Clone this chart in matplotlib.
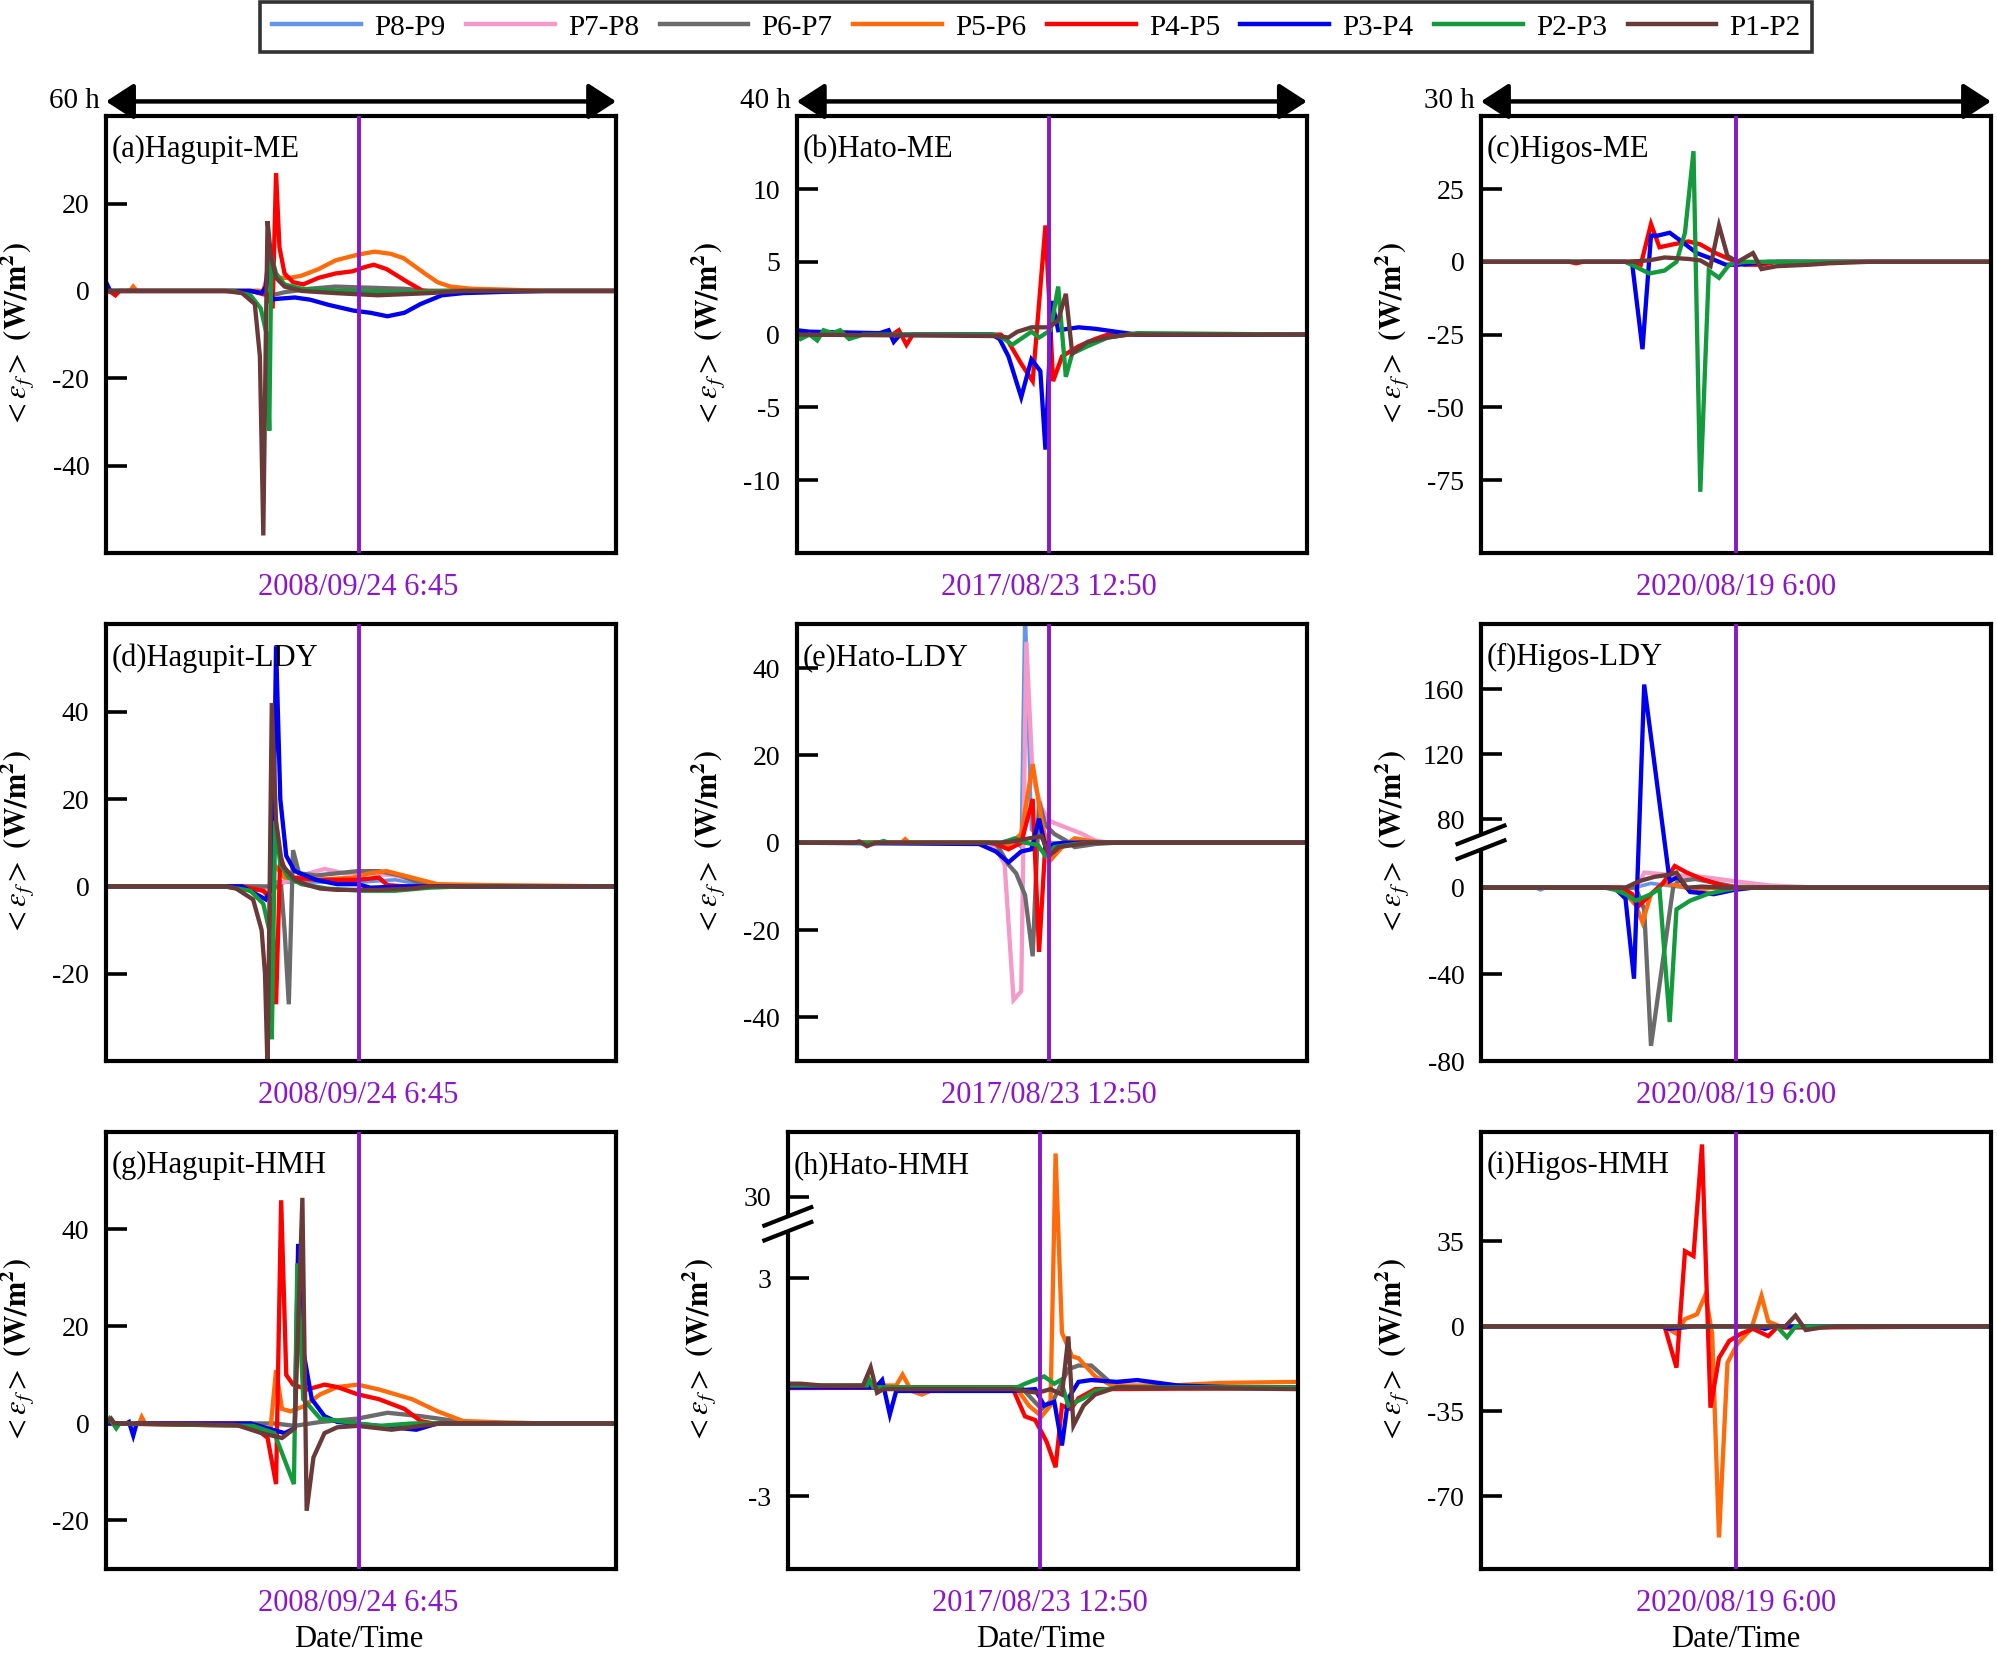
import numpy as np
import matplotlib
matplotlib.use('Agg')
import matplotlib.pyplot as plt
from matplotlib.lines import Line2D
from matplotlib.patches import Polygon
from matplotlib.ticker import FixedLocator

plt.rcParams['font.family'] = ['Liberation Serif', 'DejaVu Serif']
plt.rcParams['mathtext.fontset'] = 'stix'
plt.rcParams['axes.unicode_minus'] = False

############## series names and colours #################
names = ['P8-P9', 'P7-P8', 'P6-P7', 'P5-P6', 'P4-P5', 'P3-P4', 'P2-P3', 'P1-P2']
colors = ['#6495ED', '#F59AC8', '#6B6B6B', '#FF6A0A', '#FF0000', '#0000F0', '#139A3C', '#6A3A38']

dates = ['2008/09/24 6:45', '2017/08/23 12:50', '2020/08/19 6:00']
spans = [60, 40, 30]          # hours shown in each column
typhoon_time = [29.7, 19.8, 15.0]   # hour of the purple marker

############## data: hours, <eps_f> (W/m2) #################
hagupit_me = {
    'P6-P7': ([0, 18, 19.5, 21, 24, 27, 30, 35, 38, 60],
              [0, 0, -1, -0.3, 0.5, 1, 0.8, 0.5, 0, 0]),
    'P5-P6': ([0, 2.8, 3.2, 3.6, 18.5, 19.2, 20, 21.7, 23, 25, 27, 29.6, 31.6, 33.5, 35, 37.5, 39, 40.5, 43, 47, 52, 60],
              [0, 0, 1, 0, 0, 5, 3, 3, 3.5, 5, 7, 8.3, 9, 8.5, 7.5, 4, 2, 1, 0.5, 0.3, 0, 0]),
    'P4-P5': ([0, 0.6, 1.1, 1.6, 17, 19.0, 19.6, 20.0, 20.4, 21, 22, 23.2, 25, 27, 29, 30.5, 31.5, 33, 35.5, 37.3, 60],
              [0, -0.3, -1, 0, 0, -1, -4, 27, 10, 4, 2, 1.5, 3, 4, 4.5, 5.5, 6, 5, 2, 0, 0]),
    'P3-P4': ([0, 0.5, 17, 18.3, 18.8, 19.1, 19.5, 20.2, 22.2, 24, 26.2, 29.1, 31.1, 33.1, 35.1, 37, 39.5, 42, 47, 52, 60],
              [2, 0, 0, -0.5, 1, 8, -2, -1.8, -1.5, -2, -3.2, -4.5, -5, -5.8, -5, -3, -1, -0.5, -0.2, 0, 0]),
    'P2-P3': ([0, 15, 17, 18.2, 18.9, 19.2, 19.45, 20, 21, 23, 28, 35, 40, 60],
              [0, 0, -1, -4, -10, -32, 8, 4, 1.5, 0.5, 0, -0.3, 0, 0]),
    'P1-P2': ([0, 14, 16, 17.5, 18.1, 18.5, 18.8, 19.0, 19.4, 20, 21, 23, 27, 32, 38, 42, 60],
              [0, 0, -0.5, -3, -15, -56, -10, 16, 8, 3, 1, 0, -0.5, -1, -0.5, 0, 0]),
}

hato_me = {
    'P4-P5': ([0, 7.5, 8.0, 8.6, 9.1, 16, 16.6, 17.6, 18.5, 19.5, 20.1, 20.8, 22.1, 23.4, 24.4, 40],
              [0, 0, 0.3, -0.7, 0, 0, -0.5, -2, -3.2, 7.5, -3.2, -1.5, -0.8, -0.3, 0, 0]),
    'P3-P4': ([0, 1, 6.5, 7.2, 7.6, 8.1, 15.3, 15.9, 16.6, 17.6, 18.4, 19.1, 19.5, 20.0, 20.5, 22.1, 23.4, 25, 26.7, 40],
              [0.3, 0.2, 0.1, 0.3, -0.5, 0, 0, -0.3, -1.5, -4.3, -1.7, -2.5, -7.9, 2.3, 0.3, 0.5, 0.4, 0.2, 0, 0]),
    'P2-P3': ([0, 0.3, 1.0, 1.6, 2.1, 2.8, 3.4, 4.1, 5.2, 15.5, 16.3, 16.9, 18.4, 19.0, 19.9, 20.5, 21.1, 21.6, 22.8, 24.4, 26.7, 40],
              [0, -0.3, 0, -0.4, 0.3, 0.1, 0.3, -0.3, 0, 0, -0.3, -0.7, 0.2, -0.2, 0.3, 3.3, -2.9, -1.3, -0.8, -0.2, 0.1, 0]),
    'P1-P2': ([0, 15.6, 16.6, 17.3, 18.4, 19.8, 20.5, 21.1, 21.6, 22.8, 24.4, 26, 40],
              [0, -0.1, -0.2, 0.2, 0.5, 0.5, 1.0, 2.8, -1.3, -0.5, -0.2, 0, 0]),
}

higos_me = {
    'P4-P5': ([0, 5.2, 5.6, 6.0, 9.0, 9.4, 10.0, 10.5, 11.3, 12.2, 12.9, 13.8, 14.8, 15.5, 16.5, 17.4, 30],
              [0, 0, -0.5, 0, 0, -1, 13, 5, 6, 7, 6, 3, 0.5, -1, -1, 0, 0]),
    'P3-P4': ([0, 8.5, 8.9, 9.5, 10.0, 10.4, 11.1, 11.8, 12.7, 13.6, 14.4, 15.1, 16.0, 16.9, 30],
              [0, 0, -1, -30, 9, 9, 10, 7, 3, 1, -1, -1, -0.5, 0, 0]),
    'P2-P3': ([0, 8.5, 9.9, 10.8, 11.5, 12.0, 12.5, 12.9, 13.4, 14.0, 14.6, 15.5, 30],
              [0, 0, -4, -3, 0, 10, 38, -79, -3, -5.5, -1, 0, 0]),
    'P1-P2': ([0, 8.5, 9.9, 10.8, 12.2, 12.9, 13.5, 14.0, 14.5, 15.1, 16.0, 16.5, 17.4, 19.3, 20.5, 22.8, 30],
              [0, 0, 0.5, 1.5, 1.0, 0.5, -1.5, 12.5, 2, 0, 3, -2.5, -1.5, -1, -0.5, 0, 0]),
}

hagupit_ldy = {
    'P8-P9': ([0, 17, 18.8, 19.6, 21, 25, 30, 34, 37, 40, 60],
              [0, 0, -1, 1, 1, 1, 1, 1.5, 0.5, 0, 0]),
    'P7-P8': ([0, 18, 19.5, 21, 23, 25.7, 28, 31, 34, 37, 40, 60],
              [0, 0, -1, 1, 2.5, 4, 3, 3, 2.5, 1, 0, 0]),
    'P6-P7': ([0, 18, 20.6, 21.0, 21.5, 22.0, 22.7, 24.7, 27.2, 29.6, 32.1, 34.6, 36.6, 38, 60],
              [0, 0, 0, -10, -27, 8.3, 3, 2.5, 3, 3.5, 3.5, 2.5, 1, 0, 0]),
    'P5-P6': ([0, 16, 18.5, 19.3, 19.8, 21, 25, 29, 31, 33, 36, 39, 45, 60],
              [0, 0, -1, -3, 5, 2, 1.5, 2, 3, 3.5, 2, 0.5, 0.3, 0]),
    'P4-P5': ([0, 16, 18.5, 19.5, 20.0, 20.5, 21, 22, 25, 29.6, 32.1, 33.1, 35, 60],
              [0, 0, -1, -3, -27, 7, 4, 2, 1.5, 1.5, 2, 0.3, 0, 0]),
    'P3-P4': ([0, 16, 18.8, 19.6, 20.0, 20.5, 21.2, 22.2, 24.7, 27.2, 29.6, 31.1, 35, 60],
              [0, 0, -3, 0, 55, 20, 7, 3.5, 1.5, 0.5, 0.5, -0.3, 0, 0]),
    'P2-P3': ([0, 14, 17, 18.5, 19.2, 19.5, 19.9, 20.5, 21.5, 23, 26, 30, 34, 38, 42, 60],
              [0, 0, -1, -4, -10, -35, 15, 5, 2, 0.5, -0.5, -1, -1, -0.3, 0, 0]),
    'P1-P2': ([0, 14, 15.3, 17.3, 18.3, 18.7, 19.0, 19.5, 20.0, 20.7, 22.2, 23.7, 25.2, 27.2, 32.1, 36, 38, 60],
              [0, 0, -0.5, -3, -10, -20, -42, 42, 15, 5, 1.5, 0.3, -0.5, -0.8, -0.8, -0.5, 0, 0]),
}

hato_ldy = {
    'P8-P9': ([0, 17.2, 17.6, 17.9, 18.4, 19.2, 20, 40],
              [0, 0, -1, 55, 3, 1, 0, 0]),
    'P7-P8': ([0, 15.0, 15.6, 16.3, 17.0, 17.6, 18.0, 18.5, 19.2, 19.8, 21.1, 22.4, 23.4, 24.5, 40],
              [0, 0, -1, -5, -36, -34, 46, 15, 8, 5, 3.5, 2, 0.5, 0, 0]),
    'P6-P7': ([0, 5.2, 5.5, 5.9, 15.6, 16.6, 17.2, 17.9, 18.5, 19.0, 19.5, 20.2, 21.1, 21.8, 23.4, 25, 40],
              [0, 0, -0.5, 0, 0, -5, -7, -12, -26, 9.4, 4, 2, 0.5, -1, -0.3, 0, 0]),
    'P5-P6': ([0, 8.2, 8.5, 8.8, 16, 16.6, 17.6, 18.5, 19.2, 19.9, 20.8, 21.8, 22.8, 24, 40],
              [0, 0, 0.8, 0, 0, -0.5, 2, 18, 5, -4, -1, 1, 0.5, 0, 0]),
    'P4-P5': ([0, 15, 15.6, 16.6, 17.6, 18.5, 19.0, 19.5, 20.2, 20.8, 22, 40],
              [0, 0, -0.3, -1.5, 0, 10, -25, 0, -2, -0.5, 0, 0]),
    'P3-P4': ([0, 14.3, 15.6, 16.6, 17.6, 18.4, 19.0, 19.5, 20.2, 21, 40],
              [0, -0.3, -2, -4.5, -2, -1.5, 5.5, -1, -0.3, 0, 0]),
    'P2-P3': ([0, 6.4, 6.8, 7.2, 16, 16.6, 17.1, 17.9, 18.9, 19.5, 20.2, 21.8, 23, 40],
              [0, 0, 0.4, 0, 0, 0.5, 1, 0, -0.5, -3, -1, -0.3, 0, 0]),
    'P1-P2': ([0, 4.5, 4.9, 5.5, 6.2, 16, 16.9, 19.2, 19.8, 20.5, 21.8, 23, 40],
              [0, 0, 0.3, -0.8, 0, 0, 0.3, 1.5, -3, -1, -0.5, 0, 0]),
}

higos_ldy = {
    'P8-P9': ([0, 3.2, 3.5, 3.8, 9, 10, 11, 12, 30],
              [0, 0, -1, 0, 0, 2, 1, 0, 0]),
    'P7-P8': ([0, 9.2, 9.6, 11, 13, 14.9, 17, 20, 30],
              [0, 0, 7, 6, 5, 3, 1, 0, 0]),
    'P6-P7': ([0, 9.1, 9.6, 10.0, 11.3, 11.6, 12.6, 14.9, 17, 30],
              [0, 0, -10, -73, 0, 3, 4, 0.5, 0, 0]),
    'P5-P6': ([0, 7.8, 8.4, 9.1, 9.5, 10.0, 10.7, 11.6, 12.6, 13.7, 30],
              [0, 0, -2, -8, -16, -3, 2, 1, -1, 0, 0]),
    'P4-P5': ([0, 8.3, 8.9, 9.2, 10.0, 10.7, 11.4, 12.1, 13.0, 14.2, 14.9, 30],
              [0, 0, -3, -9, -3, 2, 10, 7, 4, 1, 0, 0]),
    'P3-P4': ([0, 7.5, 7.9, 8.5, 9.0, 9.6, 11.1, 11.6, 12.3, 13.7, 14.9, 16, 30],
              [0, 0, -0.5, -5, -42, 163, 3, 5, -2, -3, -1, 0, 0]),
    'P2-P3': ([0, 7.3, 7.9, 8.5, 9.1, 10.0, 10.5, 11.1, 11.5, 12.3, 13.3, 14.4, 15.3, 30],
              [0, 0, -1, -3, -6, -3, -0.5, -62, -10, -6, -3, -1, 0, 0]),
    'P1-P2': ([0, 8.5, 9.3, 10.2, 11.1, 11.5, 12.1, 13.0, 14.4, 30],
              [0, 0, 3, 5, 6, 7, 0, 0.5, 0, 0]),
}

hagupit_hmh = {
    'P6-P7': ([0, 19.8, 22.2, 25.2, 29.6, 33.1, 37, 42, 45, 60],
              [0, 0, -0.5, 0.3, 1, 2.2, 1.5, 0.3, 0, 0]),
    'P5-P6': ([0, 3.9, 4.2, 4.6, 17, 19.3, 20.0, 20.7, 21.7, 23.2, 25.2, 27.2, 29.6, 32.1, 36, 39, 42, 46.9, 52, 60],
              [0, 0, 1.3, 0, 0, -2, 11, 3, 2.5, 3.5, 6, 7.5, 8, 7, 5, 2.5, 0.5, 0.2, 0, 0]),
    'P4-P5': ([0, 17.3, 19.0, 20.0, 20.6, 21.2, 22.0, 23.7, 25.7, 27.2, 29.6, 32.1, 35.1, 37.0, 38.5, 60],
              [0, -0.5, -3, -12.5, 46, 10, 8, 7, 8, 7.5, 6, 5, 3, 0.5, 0, 0]),
    'P3-P4': ([0, 2.4, 2.7, 3.2, 3.6, 17, 21, 22.2, 22.6, 23.2, 24.2, 25.7, 27.2, 32.1, 36.5, 39, 60],
              [0, 0, 0.3, -2.5, 0, 0, -2, -1, 37, 15, 5, 1.5, 0.3, -0.5, -1.3, 0, 0]),
    'P2-P3': ([0, 0.4, 1.2, 1.6, 17.3, 19.8, 22.1, 22.5, 23.2, 25.2, 29.6, 32.1, 36, 60],
              [0, 1, -1, 0, -0.5, -2, -12.5, 33, 5, 1, 0, -0.5, 0, 0]),
    'P1-P2': ([0, 0.6, 1.0, 15.3, 18.3, 20.7, 22.2, 23.1, 23.6, 24.4, 25.7, 27.2, 29.6, 33.6, 37, 39.5, 60],
              [0, 1, 0, -0.3, -2, -3, -1, 46.5, -18, -7, -2, -0.8, -0.5, -1.3, -0.5, 0, 0]),
}

hato_hmh = {
    'P6-P7': ([0, 18.3, 19.9, 20.9, 22.0, 22.8, 23.8, 25.4, 27, 40],
              [0, 0, -0.6, -0.3, 0.5, 0.6, 0.6, 0.1, 0, 0]),
    'P5-P6': ([0, 7.5, 8.5, 9.0, 9.7, 10.5, 11.5, 18.0, 18.9, 19.9, 20.6, 21.0, 21.5, 22.3, 22.8, 24.1, 25.4, 30, 33.9, 40],
              [0, 0.05, 0.05, 0.35, -0.1, -0.2, -0.05, -0.05, -0.5, -0.8, -0.5, 38, 1.5, 0.85, 0.8, 0.3, 0.05, 0.05, 0.12, 0.15]),
    'P4-P5': ([0, 17.6, 18.6, 19.4, 20.3, 21.0, 21.5, 22.2, 22.8, 24.1, 40],
              [-0.02, 0, -0.8, -0.9, -1.5, -2.2, -0.5, -0.6, -0.3, -0.05, -0.02]),
    'P3-P4': ([0, 6.9, 7.4, 8.0, 8.5, 17.6, 19.4, 20.1, 20.9, 21.5, 22.0, 22.8, 23.8, 25.8, 27.4, 30.6, 35, 40],
              [0, 0, 0.2, -0.75, -0.1, -0.1, -0.05, -0.5, -0.4, -1.6, -0.3, 0.15, 0.2, 0.15, 0.2, 0.05, 0, 0]),
    'P2-P3': ([0, 6.2, 6.4, 6.7, 18.0, 18.6, 20.1, 20.9, 21.4, 22.0, 23.2, 24.1, 26, 40],
              [0.05, 0.05, 0.2, 0, 0, 0.1, 0.3, 0.1, 0.2, -0.5, -0.3, -0.1, 0, 0]),
    'P1-P2': ([0, 1.0, 2.7, 5.9, 6.5, 7.0, 7.5, 17.6, 19.6, 20.6, 21.5, 22.0, 22.4, 23.2, 24.1, 25.8, 40],
              [0.1, 0.1, 0.05, 0.05, 0.55, -0.15, -0.05, -0.05, -0.15, -0.05, -0.2, 1.4, -1.05, -0.5, -0.2, 0, -0.05]),
}

higos_hmh = {
    'P5-P6': ([0, 10.8, 11.5, 12.0, 12.7, 13.2, 13.6, 14.0, 14.5, 15.1, 15.9, 16.5, 16.9, 17.6, 30],
              [0, 0, -3, 3, 5, 13, -3, -87, -15, -7, -1, 12.6, 2, 0, 0]),
    'P4-P5': ([0, 10.8, 11.5, 12.0, 12.5, 13.0, 13.5, 14.0, 14.6, 15.3, 16.0, 16.9, 17.4, 30],
              [0, 0, -17, 31, 29, 75, -33.5, -13, -6, -3, -1, -4, -0.5, 0]),
    'P3-P4': ([0, 10.6, 11.1, 11.8, 12.5, 16.2, 16.7, 17.2, 19.3, 30],
              [0, 0, -1, -0.5, 0, 0, -1, 0, 0, 0]),
    'P2-P3': ([0, 17.4, 18.0, 18.5, 30],
              [0, 0, -4.5, 0, 0]),
    'P1-P2': ([0, 17.9, 18.5, 19.1, 20.0, 21, 30],
              [0, 0, 4.5, -1.5, -0.5, 0, 0]),
}

panels = [
    (hagupit_me, '(a)Hagupit-ME', 0, 0, (-60, 40), [-40, -20, 0, 20], None),
    (hato_me, '(b)Hato-ME', 0, 1, (-15, 15), [-10, -5, 0, 5, 10], None),
    (higos_me, '(c)Higos-ME', 0, 2, (-100, 50), [-75, -50, -25, 0, 25], None),
    (hagupit_ldy, '(d)Hagupit-LDY', 1, 0, (-40, 60), [-20, 0, 20, 40], None),
    (hato_ldy, '(e)Hato-LDY', 1, 1, (-50, 50), [-40, -20, 0, 20, 40], None),
    (higos_ldy, '(f)Higos-LDY', 1, 2, (-80, 200), [-80, -40, 0, 80, 120, 160], (21, 66, 0.75)),
    (hagupit_hmh, '(g)Hagupit-HMH', 2, 0, (-30, 60), [-20, 0, 20, 40], None),
    (hato_hmh, '(h)Hato-HMH', 2, 1, (-5.0, 41.9), [-3, 3, 30], (4.5, 25, 0.149)),
    (higos_hmh, '(i)Higos-HMH', 2, 2, (-100, 80), [-70, -35, 0, 35], None),
]

purple = '#8B17C8'
lefts = [0.0531, 0.399, 0.7416]
bottoms = [0.6657, 0.3585, 0.0514]
width, height = 0.2554, 0.2640


def break_funcs(b1, b2, k):
    def fwd(v):
        v = np.asarray(v, dtype=float)
        return np.where(v <= b1, v, np.where(v >= b2, b1 + (v - b2) * k, b1))

    def inv(u):
        u = np.asarray(u, dtype=float)
        return np.where(u <= b1, u, b2 + (u - b1) / k)
    return fwd, inv


fig = plt.figure(figsize=(19.97, 16.54), dpi=100)

for data, label, row, col, ylim, yticks, brk in panels:
    left = lefts[col]
    if row == 2 and col == 1:
        left -= 0.0045
    ax = fig.add_axes([left, bottoms[row], width, height])
    for name, c in zip(names, colors):
        if name in data:
            t, v = data[name]
            ax.plot(t, v, color=c, lw=2.6 if name == 'P8-P9' else 3.1,
                    solid_joinstyle='miter', zorder=2)
    ax.axvline(typhoon_time[col], color=purple, lw=2.8, zorder=3)

    if brk is not None:
        fwd, inv = break_funcs(*brk)
        ax.set_yscale('function', functions=(fwd, inv))
    ax.set_xlim(0, spans[col])
    ax.set_ylim(*ylim)
    ax.yaxis.set_major_locator(FixedLocator(yticks))
    ax.set_yticklabels([str(y) for y in yticks])
    ax.yaxis.set_minor_locator(FixedLocator([]))
    ax.set_xticks([])
    ax.tick_params(axis='y', direction='in', length=15, width=2.6, pad=12,
                   labelsize=20, right=False)
    for s in ax.spines.values():
        s.set_linewidth(3)

    if brk is not None:
        # axis break mark on the left spine
        f0, f1 = fwd(ylim[0]), fwd(ylim[1])
        c = float((fwd(brk[0]) - f0) / (f1 - f0))
        hw, hr, sep = 0.046, 0.021, 0.017
        poly = Polygon([(-hw, c - sep - hr), (hw, c - sep + hr),
                        (hw, c + sep + hr), (-hw, c + sep - hr)],
                       closed=True, transform=ax.transAxes, facecolor='white',
                       edgecolor='none', clip_on=False, zorder=10)
        ax.add_patch(poly)
        for d in (-sep, sep):
            ax.plot([-hw, hw], [c + d - hr, c + d + hr], color='k', lw=3,
                    transform=ax.transAxes, clip_on=False, zorder=11)

    ax.text(0.011, 0.957, label, transform=ax.transAxes, fontsize=22,
            ha='left', va='top')
    ax.set_ylabel(r'$<\varepsilon_f>$ $\mathbf{(W/m^2)}$', fontsize=22)
    ax.yaxis.set_label_coords(-0.135, 0.5)

    tr = ax.get_xaxis_transform()
    ax.text(typhoon_time[col], -0.08, dates[col], transform=tr, color=purple,
            fontsize=22, ha='center', va='center')
    if row == 2:
        ax.text(typhoon_time[col], -0.162, 'Date/Time', transform=tr,
                fontsize=22, ha='center', va='center')
    if row == 0:
        ax.annotate('', xy=(1.0, 1.034), xytext=(0.0, 1.034),
                    xycoords='axes fraction',
                    arrowprops=dict(arrowstyle='<|-|>,head_length=0.85,head_width=0.55',
                                    color='k', lw=3.2, mutation_scale=20,
                                    shrinkA=0, shrinkB=0))
        ax.text(-0.012, 1.034, '%d h' % spans[col], transform=ax.transAxes,
                fontsize=21, ha='right', va='center')

handles = [Line2D([], [], color=c, lw=3.2) for c in colors]
leg = fig.legend(handles, names, loc='upper center', ncol=8,
                 bbox_to_anchor=(0.519, 0.9985), fontsize=21, frameon=True,
                 fancybox=False, edgecolor='k', handlelength=3.05,
                 columnspacing=0.7, borderpad=0.4, handletextpad=0.45,
                 borderaxespad=0.0)
leg.get_frame().set_linewidth(2.6)

fig.savefig('out.png', dpi=100)
